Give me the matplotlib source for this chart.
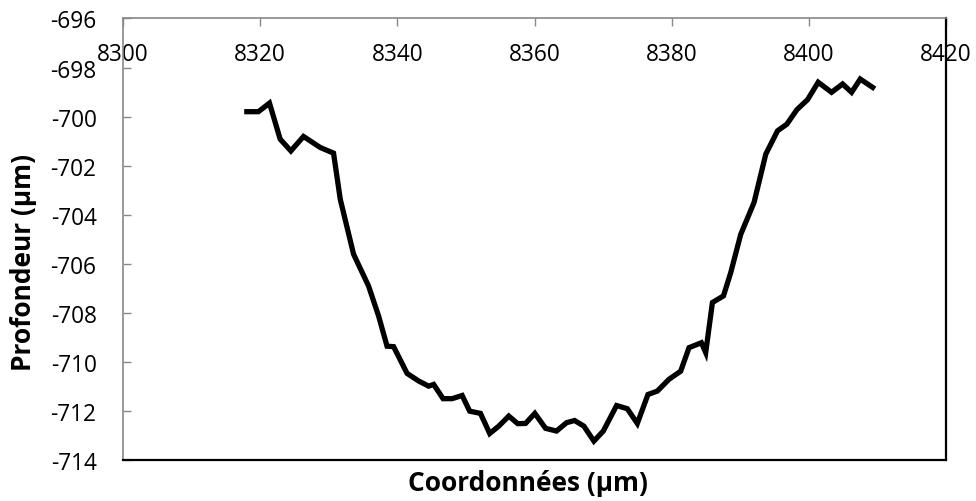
import numpy as np
import matplotlib
matplotlib.use("Agg")
from matplotlib import pyplot as plt

plt.rcParams['font.family'] = ['Open Sans', 'DejaVu Sans']
plt.rcParams['axes.unicode_minus'] = False

# profil mesure : coordonnees (um) / profondeur (um)
coord = [8318.06, 8319.75, 8321.36, 8322.92, 8324.48, 8326.32, 8328.76, 8330.70,
         8331.68, 8333.62, 8335.81, 8337.27, 8338.50, 8339.46, 8341.42, 8343.11,
         8344.57, 8345.30, 8346.67, 8347.99, 8349.45, 8350.55, 8352.12, 8353.47,
         8354.79, 8356.25, 8357.56, 8358.69, 8360.05, 8361.61, 8363.21, 8364.67,
         8365.84, 8367.20, 8368.66, 8370.03, 8371.97, 8373.53, 8374.99, 8376.54,
         8377.91, 8379.61, 8381.31, 8382.53, 8384.33, 8384.96, 8385.94, 8387.55,
         8388.61, 8390.07, 8392.01, 8393.72, 8395.43, 8396.79, 8398.25, 8399.81,
         8401.36, 8403.31, 8404.92, 8406.23, 8407.49, 8409.30]
prof = [-699.80, -699.80, -699.45, -700.92, -701.40, -700.81, -701.26, -701.49,
        -703.37, -705.61, -706.91, -708.13, -709.36, -709.38, -710.47, -710.78,
        -710.99, -710.92, -711.50, -711.50, -711.37, -712.01, -712.10, -712.92,
        -712.62, -712.21, -712.52, -712.51, -712.10, -712.71, -712.82, -712.48,
        -712.39, -712.62, -713.23, -712.82, -711.78, -711.91, -712.51, -711.33,
        -711.19, -710.71, -710.38, -709.42, -709.22, -709.62, -707.58, -707.31,
        -706.36, -704.80, -703.50, -701.53, -700.58, -700.31, -699.72, -699.31,
        -698.60, -699.01, -698.67, -699.01, -698.47, -698.81]

xticks = np.arange(8300, 8421, 20)
yticks = np.arange(-714, -695, 2)

fig = plt.figure(figsize=(9.76, 5.02), dpi=100)
ax = fig.add_axes([0.126, 0.0817, 0.8433, 0.8795])

ax.plot(coord, prof, color='black', lw=3.8, solid_joinstyle='miter')

ax.set_xlim(8300, 8420)
ax.set_ylim(-714, -696)
ax.set_xticks(xticks)
ax.set_yticks(yticks)

# axe des x en haut, etiquettes sous la ligne
ax.tick_params(axis='x', direction='in', top=True, bottom=False,
               labeltop=True, labelbottom=False, length=6, width=1,
               color='#888888', pad=-34, labelsize=16.3)
ax.tick_params(axis='y', direction='in', length=6, width=1,
               color='#888888', pad=19, labelsize=16.3)

for s in ['left', 'top']:
    ax.spines[s].set_color('#888888')
    ax.spines[s].set_linewidth(1.2)
for s in ['right', 'bottom']:
    ax.spines[s].set_color('black')
    ax.spines[s].set_linewidth(1.6)

fig.text(0.541, 0.036, 'Coordonnées (µm)', ha='center', va='center',
         fontsize=19, fontweight='bold')
fig.text(0.024, 0.478, 'Profondeur (µm)', ha='center', va='center',
         rotation=90, fontsize=19, fontweight='bold')

fig.savefig('out.png', dpi=100)
